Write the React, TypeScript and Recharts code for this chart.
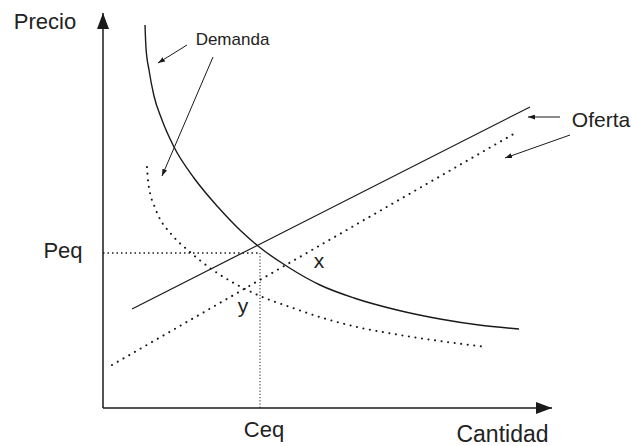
import { ComposedChart, Line, XAxis, YAxis, ReferenceDot } from "recharts";

type Pt = { q: number; p: number };

// cantidad (q) and precio (p), origin at the corner of the axes
const demanda: Pt[] = [
  { q: 42, p: 383 }, { q: 43, p: 360 }, { q: 46, p: 338 }, { q: 51, p: 312 },
  { q: 59, p: 288 }, { q: 71, p: 261 }, { q: 91, p: 230 }, { q: 115, p: 201 },
  { q: 138, p: 177 }, { q: 155, p: 162 }, { q: 185, p: 141 }, { q: 217, p: 123 },
  { q: 251, p: 110 }, { q: 294, p: 98 }, { q: 337, p: 89 }, { q: 376, p: 83 },
  { q: 416, p: 79 },
];
const demanda2: Pt[] = [
  { q: 44, p: 241 }, { q: 45, p: 228 }, { q: 47, p: 215 }, { q: 51, p: 203 },
  { q: 55, p: 193 }, { q: 69, p: 173 }, { q: 87, p: 156 }, { q: 107, p: 140 },
  { q: 129, p: 126 }, { q: 157, p: 112 }, { q: 187, p: 101 }, { q: 220, p: 90 },
  { q: 254, p: 81 }, { q: 297, p: 73 }, { q: 344, p: 66 }, { q: 384, p: 61 },
];
const oferta: Pt[] = [{ q: 29, p: 99 }, { q: 427, p: 301 }];
const oferta2: Pt[] = [{ q: 9, p: 43 }, { q: 414, p: 276 }];
const peqLine: Pt[] = [{ q: 0, p: 155 }, { q: 157, p: 155 }];
const ceqLine: Pt[] = [{ q: 157, p: 155 }, { q: 157, p: 0 }];
const ejeY: Pt[] = [{ q: 0, p: 0 }, { q: 0, p: 395 }];
const ejeX: Pt[] = [{ q: 0, p: 0 }, { q: 449, p: 0 }];
const flechas: Pt[][] = [
  [{ q: 84, p: 363 }, { q: 55, p: 345 }],
  [{ q: 110, p: 351 }, { q: 59, p: 232 }],
  [{ q: 457, p: 291 }, { q: 425, p: 291 }],
  [{ q: 467, p: 273 }, { q: 402, p: 250 }],
];
const etiquetas = [
  { text: "Precio", q: -58, p: 387, size: 22 },
  { text: "Demanda", q: 129.5, p: 369, size: 17 },
  { text: "Oferta", q: 498, p: 288.5, size: 21 },
  { text: "Peq", q: -40, p: 158, size: 22 },
  { text: "Ceq", q: 161, p: -21, size: 22 },
  { text: "Cantidad", q: 399.5, p: -26, size: 23 },
  { text: "x", q: 216, p: 147.5, size: 21 },
  { text: "y", q: 140, p: 102.5, size: 21 },
];

const INK = "#1a1a1a";

export default function App() {
  return (
    <div
      style={{
        position: "absolute",
        left: 0,
        top: 0,
        width: 632,
        height: 446,
        background: "#fff",
        fontFamily: '"Liberation Sans", Arial, sans-serif',
      }}
    >
      <ComposedChart width={632} height={446} margin={{ top: 0, right: 0, bottom: 0, left: 0 }}>
        <defs>
          <marker id="axisHead" markerWidth={16} markerHeight={12} refX={16} refY={6} orient="auto" markerUnits="userSpaceOnUse">
            <path d="M0,0 L16,6 L0,12 z" fill={INK} />
          </marker>
          <marker id="smallHead" markerWidth={7} markerHeight={5} refX={7} refY={2.5} orient="auto" markerUnits="userSpaceOnUse">
            <path d="M0,0 L7,2.5 L0,5 z" fill={INK} />
          </marker>
        </defs>
        <XAxis type="number" dataKey="q" domain={[-103, 529]} hide allowDataOverflow />
        <YAxis type="number" dataKey="p" domain={[-38, 408]} hide allowDataOverflow />

        <Line data={ejeY} dataKey="p" stroke={INK} strokeWidth={1.5} dot={false} activeDot={false} isAnimationActive={false} markerEnd="url(#axisHead)" />
        <Line data={ejeX} dataKey="p" stroke={INK} strokeWidth={1.5} dot={false} activeDot={false} isAnimationActive={false} markerEnd="url(#axisHead)" />

        <Line data={peqLine} dataKey="p" stroke={INK} strokeWidth={1.5} strokeDasharray="1.5 3" dot={false} activeDot={false} isAnimationActive={false} />
        <Line data={ceqLine} dataKey="p" stroke={INK} strokeWidth={1} strokeDasharray="1.2 2" dot={false} activeDot={false} isAnimationActive={false} />

        <Line data={demanda} dataKey="p" type="monotone" stroke={INK} strokeWidth={1.4} dot={false} activeDot={false} isAnimationActive={false} />
        <Line data={demanda2} dataKey="p" type="monotone" stroke={INK} strokeWidth={2} strokeLinecap="round" strokeDasharray="0.1 6.5" dot={false} activeDot={false} isAnimationActive={false} />
        <Line data={oferta} dataKey="p" stroke={INK} strokeWidth={1.2} dot={false} activeDot={false} isAnimationActive={false} />
        <Line data={oferta2} dataKey="p" stroke={INK} strokeWidth={2} strokeLinecap="round" strokeDasharray="0.1 6.5" dot={false} activeDot={false} isAnimationActive={false} />

        {flechas.map((f, i) => (
          <Line key={"f" + i} data={f} dataKey="p" stroke={INK} strokeWidth={1} dot={false} activeDot={false} isAnimationActive={false} markerEnd="url(#smallHead)" />
        ))}

        {etiquetas.map((e) => (
          <ReferenceDot
            key={e.text}
            x={e.q}
            y={e.p}
            r={0}
            fill="none"
            stroke="none"
            label={{ value: e.text, position: "center", fontSize: e.size, fill: "#222", fontFamily: '"Liberation Sans", Arial, sans-serif' }}
          />
        ))}
      </ComposedChart>
    </div>
  );
}
